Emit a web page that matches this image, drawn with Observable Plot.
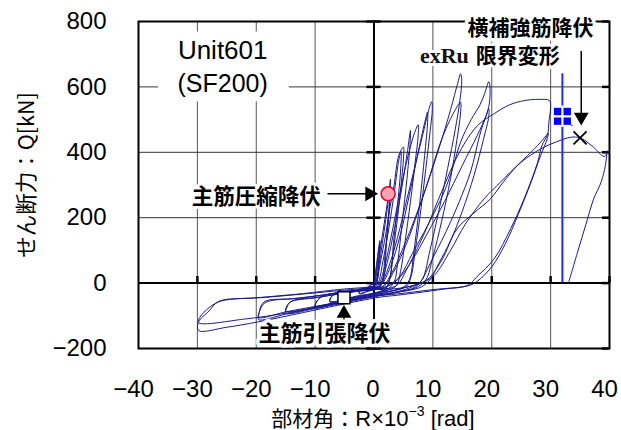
<!DOCTYPE html>
<html><head><meta charset="utf-8">
<script src="https://cdn.jsdelivr.net/npm/d3@7"></script>
<script src="https://cdn.jsdelivr.net/npm/@observablehq/plot@0.6"></script>
<style>html,body{margin:0;padding:0;background:#fff;}</style>
</head><body><div id="chart"></div>
<script>
// ---- axis ticks ----
const xTicks = [-40, -30, -20, -10, 0, 10, 20, 30, 40];
const yTicks = [-200, 0, 200, 400, 600, 800];
const xGrid = [-30, -20, -10, 10, 20, 30];
const yGrid = [200, 400, 600];

// ---- hysteresis cycles [R (x10^-3 rad), Q (kN)] ----
const c1a = [[0,0],[0.3,40],[0.7,95],[1.0,130],[0.9,90],[0.6,20],[0.3,-5],[-0.5,-14],[-1,-20],[-0.9,-10],[-0.5,-4],[0,0]];
const c1b = [[0.4,40],[0.8,100],[1.0,125],[0.9,80],[0.5,5],[0,-8],[-1,-18],[-0.8,-8],[0,-2]];
const c25a = [[0.6,50],[1.2,120],[1.8,190],[2.3,250],[2.6,290],[2.8,318],[2.7,270],[2.3,170],[1.8,70],[1.4,5],[0.6,-15],[-1,-25],[-2.5,-33],[-2.4,-22],[-1.5,-15],[0,-8]];
const c25b = [[0.8,50],[1.4,120],[2.0,195],[2.5,260],[2.8,295],[2.6,225],[2.1,120],[1.7,20],[1.0,-12],[-1,-24],[-2.5,-31],[-2.3,-20],[-1,-13],[0,-8]];
const c5a = [[0.4,0],[1.0,55],[2.0,150],[2.6,220],[3.4,298],[4.2,390],[5.0,416],[5.0,380],[4.6,300],[4.0,200],[3.3,100],[2.7,15],[2.0,-18],[0,-32],[-2.5,-40],[-5.1,-47],[-4.8,-35],[-3,-24],[-1,-16],[0,-12]];
const c5b = [[0.7,0],[1.5,65],[2.5,165],[3.5,285],[4.2,375],[4.6,402],[4.5,340],[4.0,240],[3.3,120],[2.8,25],[2.0,-16],[0,-30],[-2.5,-38],[-5,-45],[-4.7,-32],[-2.5,-22],[0,-13]];
const c75a = [[0.8,-4],[1.8,50],[3,150],[4.5,285],[5.8,390],[6.8,455],[7.5,484],[7.5,450],[7.0,370],[6.2,250],[5.3,130],[4.5,35],[3.8,-8],[2,-24],[0,-35],[-3,-45],[-7.5,-58],[-7.3,-45],[-6.5,-30],[-3,-22],[0,-15]];
const c75b = [[1,-5],[2.2,60],[3.5,170],[4.8,300],[5.7,405],[6.2,467],[6.1,420],[5.6,320],[4.8,190],[4.0,60],[3.4,2],[2,-22],[0,-33],[-3,-43],[-7.5,-55],[-7.2,-40],[-5,-28],[-2,-20],[0,-15]];
const c10a = [[1,-8],[2.5,50],[4,140],[5.5,250],[7,360],[8.5,470],[9.3,530],[9.8,555],[9.9,530],[9.5,460],[8.8,350],[8,230],[7,100],[6.3,20],[5.5,-10],[3,-25],[0,-38],[-5,-55],[-10,-75],[-9.8,-60],[-8.8,-40],[-5,-28],[-2,-20],[0,-16]];
const c10b = [[1.2,-6],[2.8,50],[4.5,150],[6,270],[7.5,400],[8.6,490],[9.1,523],[9.1,490],[8.6,390],[7.8,250],[6.8,100],[6,10],[5,-12],[2,-28],[0,-36],[-5,-52],[-10,-70],[-9.7,-55],[-8.5,-38],[-4,-25],[0,-17]];
const c15a = [[1.5,-10],[3,30],[5,110],[7,200],[9,300],[11,410],[13,530],[14.2,610],[14.7,640],[14.9,620],[14.6,560],[13.8,470],[12.5,350],[11,220],[9.5,100],[8.3,15],[7,-12],[4,-28],[0,-42],[-5,-60],[-10,-78],[-15,-92],[-14.8,-75],[-14.2,-58],[-10,-45],[-5,-30],[-2,-22],[0,-18]];
const c15b = [[1.8,-8],[3.5,40],[5.5,120],[7.5,220],[9.5,330],[11.5,440],[13.5,520],[14.7,553],[14.7,520],[14.1,440],[13,320],[11.5,190],[10,80],[8.8,10],[7,-15],[3,-30],[0,-40],[-7,-62],[-15,-85],[-14.8,-70],[-14,-55],[-9,-42],[-4,-28],[0,-20]];
const c20a = [[1.5,-15],[3,-2],[4.5,23],[6.5,90],[9.1,176],[11.9,278],[13.5,360],[14.7,431],[16.5,500],[18,545],[18.8,580],[19.5,616],[19.7,600],[19.5,540],[18.1,462],[16.4,340],[14.5,250],[13,187],[11.5,130],[10.2,84],[9,40],[7.9,4],[6,-15],[3,-30],[0,-40],[-5,-55],[-10,-75],[-15,-95],[-19.6,-112],[-19.6,-100],[-18.7,-58],[-14,-48],[-8,-35],[-3,-22],[0,-18]];
const c20b = [[2,-12],[4,10],[6.5,70],[9,150],[12,250],[15,360],[17.5,450],[19,510],[19.5,533],[19.5,510],[18.6,440],[17,330],[15,220],[13,130],[11,60],[9.5,10],[8,-12],[4,-28],[0,-40],[-8,-65],[-15,-88],[-19.6,-105],[-19.4,-85],[-18.5,-60],[-12,-45],[-6,-30],[0,-20]];
const c30a = [[2,-18],[4,-5],[5.5,40],[8.5,150],[11.5,280],[14.5,400],[17.6,482],[20.4,518],[23,545],[25.5,558],[28,562],[29.8,558],[30,540],[29.7,492],[29.5,456],[28.5,420],[27.8,370],[25.5,258],[23.2,166],[20.4,74],[17.5,20],[15.9,-7],[12,-18],[8,-28],[4,-37],[1,-43],[-6.2,-68],[-12,-90],[-19.8,-119],[-25,-135],[-29.8,-145],[-29.8,-119],[-28,-85],[-26.4,-56],[-20,-45],[-12,-32],[-6.2,-20],[-2,-14],[0,-12]];
const c30b = [[2,-25],[5,-15],[8,0],[10.2,23],[13,100],[15.5,180],[18.7,258],[21,300],[23.2,340],[25.5,380],[27.8,421],[29.2,450],[29.6,458],[29.4,440],[28.3,390],[26.5,300],[24.5,210],[22.3,120],[20,50],[17.5,5],[16,-8],[10,-20],[4,-33],[0,-40],[-6.2,-62],[-15,-92],[-22,-110],[-29.8,-121],[-29.6,-105],[-28,-75],[-26,-55],[-18,-43],[-10,-30],[-4,-20],[0,-15]];
const cFinal = [[3,-18],[6,-10],[9,10],[11.5,70],[14.1,166],[17,215],[19.8,258],[22,310],[24.4,360],[26.5,390],[28.9,416],[31,432],[33.4,446],[35,444],[37,420],[39.1,387],[39.5,395],[39.6,405],[39.3,360],[38.6,310],[37.3,257],[36,180],[34.5,90],[33.1,4]];
const tail = [[32.6,498],[33.2,488],[33.7,481]];

// ---- annotation points ----
const exRu = 32;          // limit deformation
const exRuTop = 640;
const hoopYield = [32, 510];   // 横補強筋降伏 (blue square)
const ultPoint = [35, 444];    // × mark
const compYield = [2.4, 273];  // 主筋圧縮降伏
const tensYield = [-5.1, -45]; // 主筋引張降伏

const cycles = [c1a, c1b, c25a, c25b, c5a, c5b, c75a, c75b, c10a, c10b, c15a, c15b, c20a, c20b, c30a, c30b, cFinal];
const path = cycles.flat().map(([x, y]) => ({x, y}));
const tailData = tail.map(([x, y]) => ({x, y}));

const jp = "'Noto Sans CJK JP', sans-serif";
const sans = "'Liberation Sans', Arial, sans-serif";

const plot = Plot.plot({
  width: 621,
  height: 430,
  marginLeft: 138,
  marginRight: 12,
  marginTop: 21,
  marginBottom: 82,
  style: {fontFamily: sans, fontSize: "24px", background: "white", color: "black"},
  x: {domain: [-40, 40]},
  y: {domain: [-200, 800]},
  marks: [
    Plot.ruleX(xGrid, {stroke: "#555", strokeWidth: 1}),
    Plot.ruleY(yGrid, {stroke: "#333", strokeWidth: 1}),
    Plot.rect([{x1: -36.6, x2: -14.4, y1: 554, y2: 768}], {x1: "x1", x2: "x2", y1: "y1", y2: "y2", fill: "white"}),
    Plot.axisX({ticks: xTicks.filter(d => d !== 0), tickSize: 0, tickPadding: 31, dx: -5, fontSize: 24, fontFamily: sans, label: null}),
    Plot.axisX({ticks: [0], tickSize: 0, tickPadding: 31, dx: -1, fontSize: 24, fontFamily: sans, label: null}),
    Plot.axisY({ticks: yTicks, tickSize: 0, tickPadding: 32, fontSize: 24, fontFamily: sans, label: null}),
    Plot.ruleX([0], {stroke: "black", strokeWidth: 2}),
    Plot.ruleY([0], {stroke: "black", strokeWidth: 2}),
    Plot.ruleX(xTicks.filter(d => d !== 0 && d !== -40), {y1: 0, y2: 20, stroke: "black", strokeWidth: 2.5}),
    Plot.ruleY(yTicks, {x1: -1.2, x2: 1.2, stroke: "black", strokeWidth: 2.5}),
    Plot.ruleY(yTicks, {x1: 38.8, x2: 40, stroke: "black", strokeWidth: 2.5}),
    Plot.line(path, {x: "x", y: "y", stroke: "#1a1a8f", strokeWidth: 1, curve: "catmull-rom"}),
    Plot.line(tailData, {x: "x", y: "y", stroke: "#1a1a8f", strokeWidth: 1}),
    Plot.ruleX([exRu], {y1: 0, y2: exRuTop, stroke: "#2626ff", strokeWidth: 2}),
    Plot.frame({stroke: "black", strokeWidth: 2}),
    // markers
    Plot.dot([hoopYield], {x: d => d[0], y: d => d[1], symbol: "square", r: 9.6, fill: "#0000ff"}),
    Plot.dot([hoopYield], {x: d => d[0], y: d => d[1], symbol: "plus", r: 7, stroke: "white", strokeWidth: 2.2}),
    Plot.dot([ultPoint], {x: d => d[0], y: d => d[1], symbol: "times", r: 6, stroke: "black", strokeWidth: 1.8}),
    Plot.dot([compYield], {x: d => d[0], y: d => d[1], r: 7, fill: "#f7a1b5", stroke: "#e8002a", strokeWidth: 1.5}),
    Plot.dot([tensYield], {x: d => d[0], y: d => d[1], symbol: "square", r: 6.8, fill: "white", stroke: "black", strokeWidth: 1.5}),
    // arrows
    Plot.link([{x1: -7.9, x2: -1, y1: 273, y2: 273}], {x1: "x1", x2: "x2", y1: "y1", y2: "y2", stroke: "black", strokeWidth: 1.5}),
    Plot.dot([{x: -0.75, y: 273}], {x: "x", y: "y", symbol: "triangle", r: 5.5, fill: "black", rotate: 90}),
    Plot.link([{x1: -5.1, x2: -5.1, y1: -95, y2: -131}], {x1: "x1", x2: "x2", y1: "y1", y2: "y2", stroke: "black", strokeWidth: 1.5}),
    Plot.dot([{x: -5.1, y: -93}], {x: "x", y: "y", symbol: "triangle", r: 5.5, fill: "black"}),
    Plot.link([{x1: 35.2, x2: 35.2, y1: 710, y2: 510}], {x1: "x1", x2: "x2", y1: "y1", y2: "y2", stroke: "black", strokeWidth: 1.5}),
    Plot.dot([{x: 35.2, y: 508}], {x: "x", y: "y", symbol: "triangle", r: 5.5, fill: "black", rotate: 180}),
    // labels
    Plot.text([{x: -25.7, y: 710, t: "Unit601"}], {x: "x", y: "y", text: "t", fontFamily: sans, fontSize: 26, fill: "black"}),
    Plot.text([{x: -25.7, y: 609, t: "(SF200)"}], {x: "x", y: "y", text: "t", fontFamily: sans, fontSize: 25, fill: "black"}),
    Plot.text([{x: 26.6, y: 778, t: "横補強筋降伏"}], {x: "x", y: "y", text: "t", fontFamily: jp, fontSize: 21, fontWeight: "bold", fill: "black", stroke: "white", strokeWidth: 7}),
    Plot.text([{x: 16.1, y: 695, t: "exRu"}], {x: "x", y: "y", text: "t", textAnchor: "end", fontFamily: "'Liberation Serif', 'Times New Roman', serif", fontSize: 22, fontWeight: "bold", fill: "#111", stroke: "white", strokeWidth: 6}),
    Plot.text([{x: 17.3, y: 695, t: "限界変形"}], {x: "x", y: "y", text: "t", textAnchor: "start", fontFamily: jp, fontSize: 21, fontWeight: "bold", fill: "black", stroke: "white", strokeWidth: 6}),
    Plot.text([{x: -20, y: 264, t: "主筋圧縮降伏"}], {x: "x", y: "y", text: "t", fontFamily: jp, fontSize: 21.5, fontWeight: "bold", fill: "black", stroke: "white", strokeWidth: 6}),
    Plot.text([{x: -8.4, y: -155, t: "主筋引張降伏"}], {x: "x", y: "y", text: "t", fontFamily: jp, fontSize: 22, fontWeight: "bold", fill: "black", stroke: "white", strokeWidth: 7})
  ]
});

const svg = d3.select(plot);
// x axis title with superscript
const xt = svg.append("text")
  .attr("x", 373).attr("y", 425.5)
  .attr("text-anchor", "middle")
  .style("font-family", jp).style("font-size", "21px").attr("fill", "black");
xt.append("tspan").text("部材角：");
xt.append("tspan").style("font-family", sans).style("font-size", "22px").text("R×10");
xt.append("tspan").style("font-family", sans).attr("dy", -10).style("font-size", "14px").text("−3");
xt.append("tspan").style("font-family", sans).style("font-size", "22px").attr("dy", 10).text(" [rad]");
// y axis title
svg.append("text")
  .attr("transform", "translate(34,175) rotate(-90)")
  .attr("text-anchor", "middle")
  .style("font-family", jp).style("font-size", "21.5px").attr("fill", "black")
  .text("せん断力：Q[kN]");

document.getElementById("chart").appendChild(plot);
</script>
</body></html>
